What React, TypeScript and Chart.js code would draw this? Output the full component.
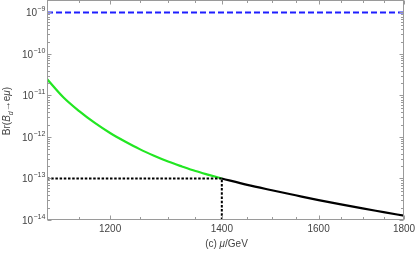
import React, { useEffect, useRef } from "react";
import { Chart, registerables } from "chart.js";

Chart.register(...registerables);

// ---- data ----
const muGreen = [1100, 1125, 1150, 1175, 1200, 1225, 1250, 1275, 1300, 1325, 1350, 1375, 1400];
const brGreen = [2.5e-11, 9.1e-12, 4.2e-12, 2.18e-12, 1.25e-12, 7.8e-13, 5.1e-13, 3.55e-13, 2.57e-13, 1.95e-13, 1.51e-13, 1.22e-13, 1.0e-13];

const muBlack = [1400, 1450, 1500, 1550, 1600, 1650, 1700, 1750, 1800];
const brBlack = [1.0e-13, 7.0e-14, 5.2e-14, 3.94e-14, 3.02e-14, 2.37e-14, 1.9e-14, 1.55e-14, 1.27e-14];

const boundMu = [1100, 1800];
const boundBr = [1e-9, 1e-9];

const markMu = 1400;
const markBr = 1e-13;

const xMin = 1100;
const xMax = 1800;
const yMin = 1e-14;
const yMax = 2e-9;

const xTickValues = [1100, 1150, 1200, 1250, 1300, 1350, 1400, 1450, 1500, 1550, 1600, 1650, 1700, 1750, 1800];
const xLabelled = [1200, 1400, 1600, 1800];
const yDecades = [-14, -13, -12, -11, -10, -9];

const FONT = "'Liberation Sans', Arial, sans-serif";
const FRAME = "#9a9a9a";
const LABEL = "#444444";

function isDecade(v: number) {
  const e = Math.log10(v);
  return Math.abs(e - Math.round(e)) < 1e-6;
}

const frameAndTitles = {
  id: "frameAndTitles",
  afterDraw(chart: any) {
    const { ctx, chartArea: a, scales } = chart;
    const xs = scales.x;
    const ys = scales.y;
    const L = Math.round(a.left) + 0.5;
    const R = Math.round(a.right) - 0.5;
    const T = Math.round(a.top) + 0.5;
    const B = Math.round(a.bottom) - 0.5;
    ctx.save();
    ctx.strokeStyle = FRAME;
    ctx.lineWidth = 1;
    ctx.setLineDash([]);
    ctx.strokeRect(L, T, R - L, B - T);
    ctx.beginPath();
    xs.ticks.forEach((t: any) => {
      const px = Math.round(xs.getPixelForValue(t.value)) + 0.5;
      const len = xLabelled.includes(t.value) ? 4 : 2.5;
      ctx.moveTo(px, B);
      ctx.lineTo(px, B - len);
      ctx.moveTo(px, T);
      ctx.lineTo(px, T + len);
    });
    ys.ticks.forEach((t: any) => {
      if (t.value < yMin * 0.999 || t.value > yMax * 1.001) return;
      const py = Math.round(ys.getPixelForValue(t.value)) + 0.5;
      const len = isDecade(t.value) ? 4 : 2.5;
      ctx.moveTo(L, py);
      ctx.lineTo(L + len, py);
      ctx.moveTo(R, py);
      ctx.lineTo(R - len, py);
    });
    ctx.stroke();

    // y tick labels 10^n with a real superscript
    ctx.fillStyle = LABEL;
    ctx.textBaseline = "alphabetic";
    ctx.textAlign = "left";
    ys.ticks.forEach((t: any) => {
      if (!isDecade(t.value)) return;
      const e = Math.round(Math.log10(t.value));
      if (!yDecades.includes(e)) return;
      const py = ys.getPixelForValue(t.value);
      const supTxt = (e < 0 ? "\u2212" : "") + String(Math.abs(e));
      ctx.font = `7px ${FONT}`;
      const ws = ctx.measureText(supTxt).width;
      ctx.font = `10px ${FONT}`;
      const wb = ctx.measureText("10").width;
      const x0 = a.left - 2 - ws - wb;
      ctx.fillText("10", x0, py + 4);
      ctx.font = `7px ${FONT}`;
      ctx.fillText(supTxt, x0 + wb + 0.3, py - 1);
    });

    // y-axis title: Br(B_d -> e mu)
    const parts: [string, string, number][] = [
      ["Br(", `10px ${FONT}`, 0],
      ["B", `italic 10px ${FONT}`, 0],
      ["d", `italic 7px ${FONT}`, 2.5],
      ["\u2192e", `10px ${FONT}`, 0],
      ["\u03BC", `italic 10px ${FONT}`, 0],
      [")", `10px ${FONT}`, 0],
    ];
    let w = 0;
    parts.forEach(([s, f]) => {
      ctx.font = f;
      w += ctx.measureText(s).width;
    });
    ctx.save();
    ctx.translate(10, (a.top + a.bottom) / 2 + 1);
    ctx.rotate(-Math.PI / 2);
    let x = -w / 2;
    parts.forEach(([s, f, dy]) => {
      ctx.font = f;
      ctx.fillText(s, x, 0 + dy);
      x += ctx.measureText(s).width;
    });
    ctx.restore();

    // x-axis title: (c) mu/GeV
    const xp: [string, string][] = [
      ["(c) ", `10px ${FONT}`],
      ["\u03BC", `italic 10px ${FONT}`],
      ["/GeV", `10px ${FONT}`],
    ];
    let wx = 0;
    xp.forEach(([s, f]) => {
      ctx.font = f;
      wx += ctx.measureText(s).width;
    });
    let xx = (a.left + a.right) / 2 + 1 - wx / 2;
    xp.forEach(([s, f]) => {
      ctx.font = f;
      ctx.fillText(s, xx, 247);
      xx += ctx.measureText(s).width;
    });
    ctx.restore();
  },
};

export default function App() {
  const ref = useRef<HTMLCanvasElement | null>(null);

  useEffect(() => {
    document.body.style.margin = "0";
    const canvas = ref.current;
    if (!canvas) return;
    const pts = (xs: number[], ys: number[]) => xs.map((x, i) => ({ x, y: ys[i] }));
    const chart = new Chart(canvas, {
      type: "line",
      data: {
        datasets: [
          {
            data: pts(boundMu, boundBr),
            borderColor: "#1e1eff",
            borderWidth: 2,
            borderDash: [6, 3],
            pointRadius: 0,
          },
          {
            data: pts([xMin, markMu], [markBr, markBr]),
            borderColor: "#000000",
            borderWidth: 2,
            borderDash: [2.5, 1.7],
            pointRadius: 0,
          },
          {
            data: pts([markMu, markMu], [yMin, markBr]),
            borderColor: "#000000",
            borderWidth: 2,
            borderDash: [2.5, 1.7],
            pointRadius: 0,
          },
          {
            data: pts(muGreen, brGreen),
            borderColor: "#22e622",
            borderWidth: 2.2,
            cubicInterpolationMode: "monotone",
            pointRadius: 0,
          },
          {
            data: pts(muBlack, brBlack),
            borderColor: "#000000",
            borderWidth: 2.2,
            cubicInterpolationMode: "monotone",
            pointRadius: 0,
          },
        ],
      },
      options: {
        animation: false,
        responsive: false,
        events: [],
        layout: { padding: { left: 0, right: 11, top: 0, bottom: 0 } },
        plugins: { legend: { display: false }, tooltip: { enabled: false } },
        scales: {
          x: {
            type: "logarithmic",
            min: xMin,
            max: xMax,
            grid: { display: false, drawTicks: false },
            border: { display: false },
            afterBuildTicks: (s: any) => {
              s.ticks = xTickValues.map((v) => ({ value: v }));
            },
            afterFit: (s: any) => {
              s.height = 33;
              s.paddingLeft = 0;
              s.paddingRight = 0;
            },
            ticks: {
              autoSkip: false,
              maxRotation: 0,
              padding: 3,
              color: LABEL,
              font: { family: FONT, size: 10 },
              callback: (v: any) => (xLabelled.includes(Number(v)) ? String(v) : ""),
            },
          },
          y: {
            type: "logarithmic",
            min: yMin,
            max: yMax,
            grid: { display: false, drawTicks: false },
            border: { display: false },
            afterBuildTicks: (s: any) => {
              const t: { value: number }[] = [];
              for (let e = -14; e <= -9; e++) {
                for (let m = 1; m <= 9; m++) {
                  const v = m * Math.pow(10, e);
                  if (v <= yMax * 1.0001) t.push({ value: Number(v.toPrecision(3)) });
                }
              }
              s.ticks = t;
            },
            afterFit: (s: any) => {
              s.width = 47;
              s.paddingTop = 0;
              s.paddingBottom = 0;
            },
            ticks: { display: false },
          },
        },
      },
      plugins: [frameAndTitles],
    } as any);
    return () => chart.destroy();
  }, []);

  return (
    <div style={{ width: 415, height: 253 }}>
      <canvas ref={ref} width={415} height={253} style={{ width: 415, height: 253, display: "block" }} />
    </div>
  );
}
